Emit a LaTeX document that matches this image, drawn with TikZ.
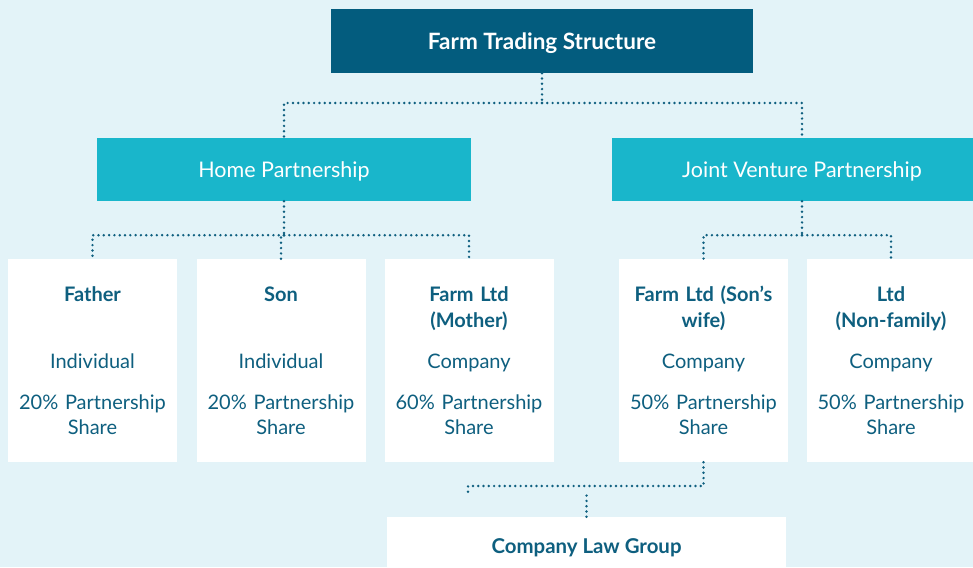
\documentclass[tikz,border=0pt]{standalone}
\usepackage{fontspec}
\setmainfont{Lato}
\usetikzlibrary{positioning}
\definecolor{bgblue}{HTML}{E3F3F8}
\definecolor{navy}{HTML}{035C7E}
\definecolor{cyanbox}{HTML}{19B6CB}
\definecolor{inktext}{HTML}{0E5F7F}
\tikzset{
	titlebox/.style = {fill = navy, text = white, inner sep = 0pt,
		font = \bfseries\fontsize{22.5}{26}\selectfont, text depth = 0pt,
		minimum width = 422pt, minimum height = 64pt},
	groupbox/.style = {fill = cyanbox, text = white, inner sep = 0pt,
		font = \fontsize{21.5}{26}\selectfont, text depth = 0pt,
		minimum height = 63pt},
	member/.style = {fill = white, text = inktext, inner sep = 0pt,
		font = \fontsize{20}{26}\selectfont, align = center,
		text width = 167pt, minimum width = 169pt, minimum height = 203pt},
	lawbox/.style = {fill = white, text = inktext, inner sep = 0pt,
		font = \bfseries\fontsize{20.4}{24}\selectfont,
		minimum width = 399pt, minimum height = 62pt},
	link/.style = {draw = inktext, line width = 2.7pt, line cap = round,
		dash pattern = on 0pt off 5.3pt}
}

\begin{document}
\begin{tikzpicture}[x = 1pt, y = -1pt]
	\fill [bgblue] (0, 0) rectangle (973, 567);
	\useasboundingbox (0, 0) rectangle (973, 567);

	% top
	\node [titlebox] (farm) at (542, 41) {Farm Trading Structure};
	\node [groupbox, minimum width = 374pt] (home) at (284, 169.5) {Home Partnership};
	\node [groupbox, minimum width = 380pt] (jv) at (802, 169.5) {Joint Venture Partnership};

	% members
	\node [member] (father) at (92.5, 360.5)
		{\textbf{Father}\\ \strut\\[15pt] Individual\\[15pt] 20\% Partnership\\[-1pt] Share};
	\node [member] (son) at (281, 360.5)
		{\textbf{Son}\\ \strut\\[15pt] Individual\\[15pt] 20\% Partnership\\[-1pt] Share};
	\node [member] (mother) at (469, 360.5)
		{\textbf{Farm Ltd}\\ \textbf{(Mother)}\\[15pt] Company\\[15pt] 60\% Partnership\\[-1pt] Share};
	\node [member] (wife) at (703.5, 360.5)
		{\textbf{Farm Ltd (Son's}\\ \textbf{wife)}\\[15pt] Company\\[15pt] 50\% Partnership\\[-1pt] Share};
	\node [member] (ltd) at (891, 360.5)
		{\textbf{Ltd}\\ \textbf{(Non-family)}\\[15pt] Company\\[15pt] 50\% Partnership\\[-1pt] Share};

	\node [lawbox] (law) at (586.5, 548) {Company Law Group};

	% dotted links
	\coordinate (top split) at (542, 103);
	\draw [link] (farm.south) -- (top split);
	\draw [link] (top split) -| (home.north);
	\draw [link] (top split) -| (jv.north);

	\coordinate (home split) at ([yshift = -34pt]home.south);
	\draw [link] (home.south) -- (home split);
	\foreach \m in {father, son, mother}{
		\draw [link] (home split) -| (\m.north);
	}

	\coordinate (jv split) at ([yshift = -34pt]jv.south);
	\draw [link] (jv.south) -- (jv split);
	\foreach \m in {wife, ltd}{
		\draw [link] (jv split) -| (\m.north);
	}

	\coordinate (law split) at (468, 486);
	\draw [link] (wife.south) |- (law split) -- ++(0, 6);
	\draw [link] (law.north) -- ++(0, -24);
\end{tikzpicture}
\end{document}
